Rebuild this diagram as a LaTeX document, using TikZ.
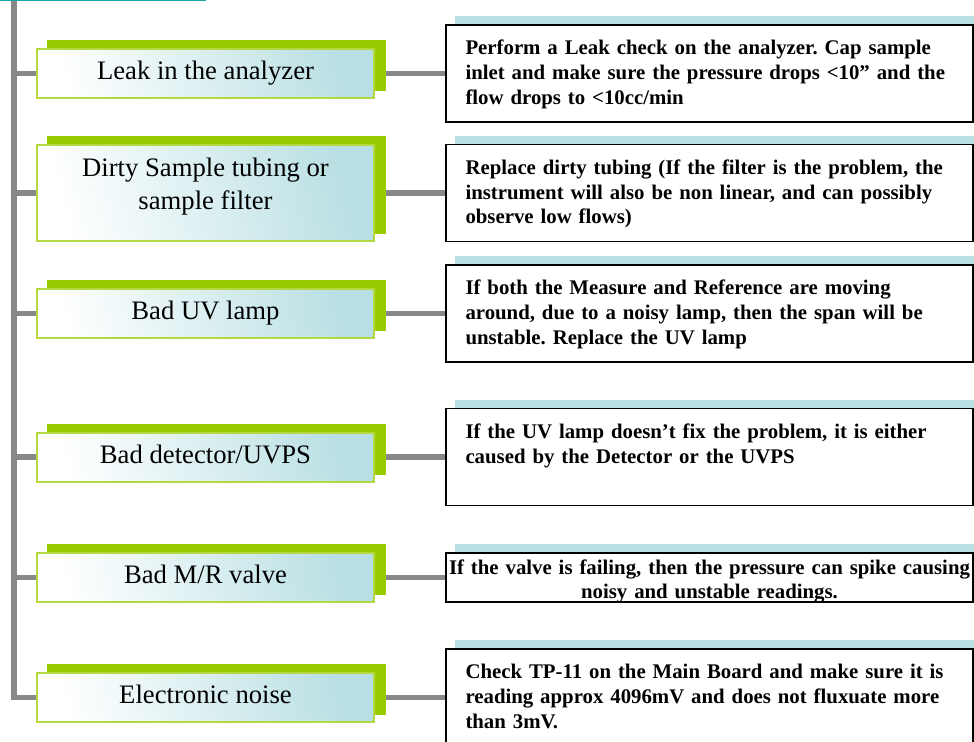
\documentclass[tikz,border=0pt]{standalone}
\usepackage{fontspec}
\setmainfont{Liberation Serif}
\usetikzlibrary{backgrounds}
\usetikzlibrary{calc}

\definecolor{causegreen}{RGB}{153,204,0}
\definecolor{causeline}{RGB}{180,216,64}
\definecolor{causeteal}{RGB}{184,223,227}
\definecolor{fixteal}{RGB}{184,224,226}
\definecolor{trunkgray}{RGB}{136,136,136}
\definecolor{headteal}{RGB}{30,163,163}

\tikzset{
  cause/.style={draw=causeline, line width=1.5pt, top color=causeteal, bottom color=white, shading angle=-75,
    minimum width=252.75pt, minimum height=36.75pt, align=center,
    font=\fontsize{20}{24.5}\selectfont, text height=13.7pt, text depth=4.3pt},
  fix/.style={draw=black, line width=1.1pt, fill=white, minimum width=395.25pt, minimum height=72.75pt,
    text width=366pt, inner xsep=14.6pt, align=left,
    font=\bfseries\fontsize{15.6}{18.4}\selectfont\frenchspacing, text height=11pt, text depth=38.8pt},
  trunk/.style={draw=trunkgray, line width=4.4pt},
  causeshadow/.style={fill=causegreen},
  fixshadow/.style={fill=fixteal}
}

\begin{document}
\begin{tikzpicture}[x=0.75pt,y=0.75pt,yscale=-1,xscale=1]
\useasboundingbox (0,0) rectangle (974,742);
\clip (0,0) rectangle (974,742);

% title box, cut off at the top
\node[draw=headteal, line width=1.5pt, fill=white, minimum width=170pt, minimum height=40pt, anchor=south east] (head) at (206,1) {};
\coordinate (top) at (14,0);

% causes
\node[cause] (leak) at (205.5,73.5) {Leak in the analyzer};
\node[cause, minimum height=72pt, text height=28.3pt, text depth=4.3pt] (tubing) at (205.5,193) {Dirty Sample tubing or\\sample filter};
\node[cause] (lamp) at (205.5,313.5) {Bad UV lamp};
\node[cause] (detector) at (205.5,457) {Bad detector/UVPS};
\node[cause] (valve) at (205.5,577.5) {Bad M/R valve};
\node[cause] (noise) at (205.5,697.5) {Electronic noise};

% fixes
\node[fix] (fixleak) at (709.5,73.5) {Perform a Leak check on the analyzer. Cap sample\\inlet and make sure the pressure drops <10” and the\\flow drops to <10cc/min};
\node[fix] (fixtubing) at (709.5,193) {Replace dirty tubing (If the filter is the problem, the\\instrument will also be non linear, and can possibly\\observe low flows)};
\node[fix] (fixlamp) at (709.5,313.5) {If both the Measure and Reference are moving\\around, due to a noisy lamp, then the span will be\\unstable. Replace the UV lamp};
\node[fix] (fixdetector) at (709.5,457) {If the UV lamp doesn’t fix the problem, it is either\\caused by the Detector or the UVPS};
\node[fix, minimum height=36.75pt, align=center, text width=395pt, inner xsep=0pt, inner ysep=1pt, text depth=16.2pt] (fixvalve) at (709.5,577.5) {If the valve is failing, then the pressure can spike causing\\noisy and unstable readings.};
\node[fix] (fixnoise) at (709.5,697.5) {Check TP-11 on the Main Board and make sure it is\\reading approx 4096mV and does not fluxuate more\\than 3mV.};

\begin{pgfonlayer}{background}
% trunk and branches
\draw[trunk] (top) |- (noise.west);
\draw[trunk] (top |- leak.west) -- (leak.west);
\draw[trunk] (top |- tubing.west) -- (tubing.west);
\draw[trunk] (top |- lamp.west) -- (lamp.west);
\draw[trunk] (top |- detector.west) -- (detector.west);
\draw[trunk] (top |- valve.west) -- (valve.west);

\draw[trunk] (leak.east) -- (fixleak.west);
\draw[trunk] (tubing.east) -- (fixtubing.west);
\draw[trunk] (lamp.east) -- (fixlamp.west);
\draw[trunk] (detector.east) -- (fixdetector.west);
\draw[trunk] (valve.east) -- (fixvalve.west);
\draw[trunk] (noise.east) -- (fixnoise.west);

% shadows
\fill[causeshadow] ($(leak.south west)+(11,-8)$) rectangle ($(leak.north east)+(11,-8)$);
\fill[causeshadow] ($(tubing.south west)+(11,-8)$) rectangle ($(tubing.north east)+(11,-8)$);
\fill[causeshadow] ($(lamp.south west)+(11,-8)$) rectangle ($(lamp.north east)+(11,-8)$);
\fill[causeshadow] ($(detector.south west)+(11,-8)$) rectangle ($(detector.north east)+(11,-8)$);
\fill[causeshadow] ($(valve.south west)+(11,-8)$) rectangle ($(valve.north east)+(11,-8)$);
\fill[causeshadow] ($(noise.south west)+(11,-8)$) rectangle ($(noise.north east)+(11,-8)$);

\fill[fixshadow] ($(fixleak.south west)+(10,-8)$) rectangle ($(fixleak.north east)+(10,-8)$);
\fill[fixshadow] ($(fixtubing.south west)+(10,-8)$) rectangle ($(fixtubing.north east)+(10,-8)$);
\fill[fixshadow] ($(fixlamp.south west)+(10,-8)$) rectangle ($(fixlamp.north east)+(10,-8)$);
\fill[fixshadow] ($(fixdetector.south west)+(10,-8)$) rectangle ($(fixdetector.north east)+(10,-8)$);
\fill[fixshadow] ($(fixvalve.south west)+(10,-8)$) rectangle ($(fixvalve.north east)+(10,-8)$);
\fill[fixshadow] ($(fixnoise.south west)+(10,-8)$) rectangle ($(fixnoise.north east)+(10,-8)$);
\end{pgfonlayer}

\end{tikzpicture}
\end{document}
